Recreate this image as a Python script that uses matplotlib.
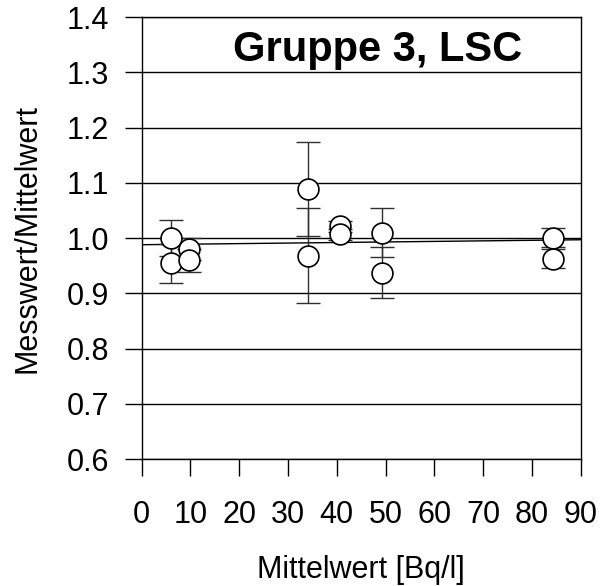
import matplotlib
matplotlib.use("Agg")
import matplotlib.pyplot as plt
import numpy as np

plt.rcParams['font.family'] = ['Liberation Sans', 'DejaVu Sans']

# data
x_mean = [6.0, 6.0, 9.8, 9.8, 34.2, 34.2, 40.7, 40.7, 49.3, 49.3, 84.3, 84.3]
ratio = [1.000, 0.954, 0.980, 0.960, 1.089, 0.968, 1.021, 1.007, 1.010, 0.937, 1.001, 0.963]
ratio_err = [0.033, 0.035, 0.020, 0.021, 0.085, 0.086, 0.010, 0.010, 0.045, 0.046, 0.018, 0.018]
fit_intercept = 0.988
fit_slope = 0.0001
x_ticks = [0, 10, 20, 30, 40, 50, 60, 70, 80, 90]
y_ticks = [0.6, 0.7, 0.8, 0.9, 1.0, 1.1, 1.2, 1.3, 1.4]
title = "Gruppe 3, LSC"
xlabel = "Mittelwert [Bq/l]"
ylabel = "Messwert/Mittelwert"

fig = plt.figure(figsize=(6.0, 5.86), dpi=100)
ax = fig.add_axes([0.236, 0.2167, 0.732, 0.754])

ax.set_xlim(0, 90)
ax.set_ylim(0.6, 1.4)
ax.set_xticks(x_ticks)
ax.set_yticks(y_ticks)
ax.set_yticklabels([f"{v:.1f}" for v in y_ticks])
ax.tick_params(axis='both', direction='out', length=12, width=1, labelsize=22, colors='black')
ax.tick_params(axis='x', pad=17.5)
ax.tick_params(axis='y', pad=11.5)

ax.yaxis.grid(True, color='black', linewidth=1)
ax.set_axisbelow(True)
for s in ax.spines.values():
    s.set_linewidth(1)
    s.set_color('black')

xf = np.array([0, 90])
ax.plot(xf, fit_intercept + fit_slope * xf, color='black', linewidth=1, zorder=2)

ax.errorbar(x_mean, ratio, yerr=ratio_err, fmt='none', ecolor='#303030',
            elinewidth=1, capsize=8.5, capthick=1, zorder=3)
ax.plot(x_mean, ratio, 'o', markersize=15, markerfacecolor='white',
        markeredgecolor='black', markeredgewidth=1.2, linestyle='none', zorder=4)

ax.text(0.538, 0.925, title, transform=ax.transAxes, ha='center', va='center',
        fontsize=30, fontweight='bold')
ax.set_xlabel(xlabel, fontsize=22, labelpad=18)
ax.set_ylabel(ylabel, fontsize=22, labelpad=17)

fig.savefig("out.png", dpi=100)
